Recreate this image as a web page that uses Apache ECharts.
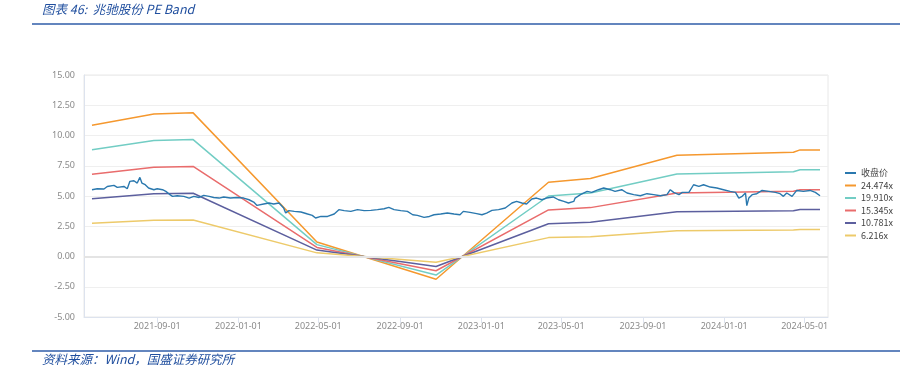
<!DOCTYPE html>
<html><head><meta charset="utf-8">
<script src="https://cdn.jsdelivr.net/npm/echarts@6/dist/echarts.min.js"></script>
<style>html,body{margin:0;padding:0;background:#fff}#c{width:908px;height:370px}</style>
</head><body><div id="c"></div>
<script>
const seriesNames = ['收盘价','24.474x','19.910x','15.345x','10.781x','6.216x'];
const seriesColors = ['#2a78ae','#f5982e','#72cdc4','#e96c6c','#5c5f9e','#edca6a'];

const closeDates = [
'2021-05-26','2021-06-03','2021-06-13','2021-06-18','2021-06-28','2021-07-03','2021-07-13','2021-07-18','2021-07-22','2021-07-25',
'2021-07-28','2021-08-02','2021-08-06','2021-08-09','2021-08-14','2021-08-19','2021-08-27','2021-09-01','2021-09-09','2021-09-14',
'2021-09-19','2021-09-24','2021-10-01','2021-10-11','2021-10-19','2021-10-21','2021-10-26','2021-11-03','2021-11-10','2021-11-18',
'2021-11-25','2021-12-03','2021-12-10','2021-12-20','2021-12-30','2022-01-09','2022-01-17','2022-01-24','2022-01-29','2022-02-08',
'2022-02-16','2022-02-23','2022-03-03','2022-03-10','2022-03-13','2022-03-18','2022-03-26','2022-04-05','2022-04-15','2022-04-22',
'2022-04-27','2022-05-05','2022-05-15','2022-05-25','2022-06-01','2022-06-09','2022-06-19','2022-06-29','2022-07-09','2022-07-19',
'2022-07-29','2022-08-08','2022-08-15','2022-08-23','2022-09-02','2022-09-12','2022-09-20','2022-09-27','2022-10-07','2022-10-15',
'2022-10-22','2022-11-01','2022-11-11','2022-11-21','2022-11-30','2022-12-05','2022-12-15','2022-12-25','2023-01-02','2023-01-09',
'2023-01-17','2023-01-27','2023-02-06','2023-02-16','2023-02-23','2023-03-03','2023-03-10','2023-03-18','2023-03-25','2023-04-02',
'2023-04-09','2023-04-19','2023-04-27','2023-05-05','2023-05-12','2023-05-20','2023-05-22','2023-05-30','2023-06-09','2023-06-16',
'2023-06-26','2023-07-04','2023-07-14','2023-07-21','2023-07-31','2023-08-08','2023-08-18','2023-08-28','2023-09-07','2023-09-17',
'2023-09-27','2023-10-07','2023-10-12','2023-10-17','2023-10-25','2023-10-30','2023-11-09','2023-11-16','2023-11-24','2023-12-01',
'2023-12-11','2023-12-21','2023-12-31','2024-01-10','2024-01-18','2024-01-23','2024-01-28','2024-02-02','2024-02-04','2024-02-07',
'2024-02-12','2024-02-19','2024-02-27','2024-03-08','2024-03-18','2024-03-25','2024-03-30','2024-04-04','2024-04-12','2024-04-19',
'2024-04-29','2024-05-09','2024-05-17','2024-05-24'];
const closeValues = [
5.52,5.60,5.58,5.79,5.88,5.71,5.79,5.60,6.21,6.07,
6.26,6.07,6.54,6.07,5.93,5.66,5.52,5.60,5.52,5.38,
5.16,4.97,5.02,4.97,4.83,4.69,4.97,4.88,5.05,4.97,
4.88,4.83,4.92,4.83,4.88,4.83,4.69,4.50,4.22,4.34,
4.42,4.34,4.42,4.01,3.60,3.79,3.73,3.68,3.51,3.40,
3.18,3.31,3.31,3.51,3.87,3.79,3.73,3.87,3.79,3.81,
3.87,3.95,4.06,3.87,3.79,3.73,3.45,3.40,3.23,3.31,
3.45,3.51,3.60,3.51,3.45,3.73,3.65,3.54,3.45,3.59,
3.81,3.87,4.01,4.42,4.55,4.42,4.34,4.75,4.83,4.69,
4.83,4.92,4.69,4.55,4.42,4.55,4.83,5.11,5.38,5.30,
5.52,5.66,5.52,5.38,5.52,5.25,5.11,5.02,5.19,5.11,
5.02,5.11,5.52,5.30,5.11,5.30,5.30,5.93,5.80,5.93,
5.74,5.66,5.52,5.38,5.30,4.83,4.97,5.25,4.20,4.83,
5.11,5.19,5.46,5.38,5.30,5.19,4.97,5.25,4.97,5.46,
5.38,5.46,5.30,5.02];

const bandDates = ['2021-05-26','2021-08-27','2021-10-25','2022-04-29','2022-10-25','2023-04-12','2023-06-14','2023-10-22','2024-04-14','2024-04-24','2024-05-24'];
const band24474 = [10.84,11.77,11.87,1.20,-1.88,6.14,6.44,8.37,8.61,8.81,8.81];
const band19910 = [8.82,9.58,9.66,0.98,-1.53,5.00,5.24,6.81,7.01,7.17,7.17];
const band15345 = [6.80,7.38,7.44,0.75,-1.18,3.85,4.04,5.25,5.40,5.52,5.52];
const band10781 = [4.78,5.19,5.23,0.53,-0.83,2.71,2.84,3.69,3.79,3.88,3.88];
const band6216  = [2.75,2.99,3.01,0.30,-0.48,1.56,1.63,2.13,2.19,2.24,2.24];

const xTickLabels = ['2021-09-01','2022-01-01','2022-05-01','2022-09-01','2023-01-01','2023-05-01','2023-09-01','2024-01-01','2024-05-01'];
const xMin = '2021-05-14', xMax = '2024-06-05';
const yMin = -5, yMax = 15, yStep = 2.5;

const titleText = '图表 46:  兆驰股份 PE Band';
const sourceText = '资料来源：Wind，国盛证券研究所';

function toTime(s){ const p = s.split('-').map(Number); return Date.UTC(p[0], p[1]-1, p[2]); }
function fmt(v){ const d=new Date(v); const m=d.getUTCMonth()+1, dd=d.getUTCDate(); return d.getUTCFullYear()+'-'+(m<10?'0':'')+m+'-'+(dd<10?'0':'')+dd; }
function pairs(d, v){ return d.map((t,i)=>[toTime(t), v[i]]); }
const bands = [band24474, band19910, band15345, band10781, band6216];
const tickValues = xTickLabels.map(toTime);

const chart = echarts.init(document.getElementById('c'), null, {renderer:'canvas'});
const series = [{
  name: seriesNames[0], type:'line', data: pairs(closeDates, closeValues),
  symbol:'none', lineStyle:{width:1.4, color:seriesColors[0]}, itemStyle:{color:seriesColors[0]},
  markLine:{silent:true, symbol:'none', label:{show:false}, lineStyle:{color:'#e4e4e4', width:2, type:'solid'}, data:[{yAxis:0}]},
  z:5
}];
bands.forEach((b,i)=>{
  series.push({name: seriesNames[i+1], type:'line', data: pairs(bandDates, b), symbol:'none',
    lineStyle:{width:1.5, color:seriesColors[i+1]}, itemStyle:{color:seriesColors[i+1]}, z:3});
});

chart.setOption({
  animation:false,
  backgroundColor:'#fff',
  textStyle:{fontFamily:'"Noto Sans", "Noto Sans CJK SC", sans-serif'},
  grid:{left:84, right:80, top:75, bottom:53, show:true, borderColor:'#e8e8e8', borderWidth:1, backgroundColor:'transparent'},
  legend:{orient:'vertical', left:840, top:163, icon:'rect', itemWidth:11, itemHeight:2, itemGap:2.5,
    textStyle:{fontSize:9, color:'#444', lineHeight:10, fontFamily:'"Noto Sans CJK SC", "Noto Sans", sans-serif'},
    data: seriesNames},
  xAxis:{type:'value', min:toTime(xMin), max:toTime(xMax), scale:true,
    axisLine:{onZero:false, lineStyle:{color:'#dde3ee'}},
    axisTick:{show:true, length:6, lineStyle:{color:'#dde3ee'}, customValues: tickValues},
    axisLabel:{customValues: tickValues, formatter: fmt, color:'#8a8a8a', fontSize:9, margin:5, hideOverlap:false},
    splitLine:{show:false}},
  yAxis:{type:'value', min:yMin, max:yMax, interval:yStep,
    axisLine:{show:true, lineStyle:{color:'#dde3ee'}},
    axisTick:{show:false},
    axisLabel:{formatter:v=>v.toFixed(2), color:'#8a8a8a', fontSize:9, margin:9},
    splitLine:{lineStyle:{color:'#efefef'}}},
  graphic:[
    {type:'text', left:42, top:3, style:{text:titleText, fill:'#1f4e9e', font:'italic 12.5px "Noto Sans CJK SC", sans-serif'}},
    {type:'line', shape:{x1:32, y1:24, x2:900, y2:24}, style:{stroke:'#2f5ca8', lineWidth:1.5}},
    {type:'line', shape:{x1:32, y1:351, x2:900, y2:351}, style:{stroke:'#2f5ca8', lineWidth:1.5}},
    {type:'text', left:42, top:353, style:{text:sourceText, fill:'#1f4e9e', font:'italic 12.5px "Noto Sans CJK SC", sans-serif'}}
  ],
  series: series
});
</script></body></html>
